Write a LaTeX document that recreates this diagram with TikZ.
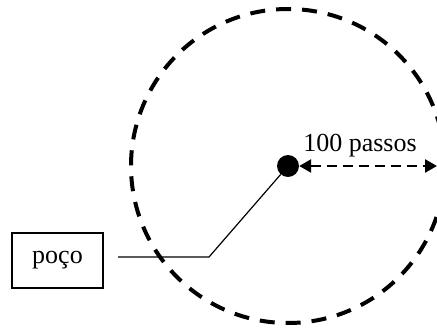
\documentclass[tikz,border=0pt]{standalone}
\usepackage{fontspec}
\setmainfont{Liberation Serif}
\usetikzlibrary{arrows.meta}
\begin{document}
\begin{tikzpicture}[x=1pt,y=-1pt,
  lbl/.style={font=\fontsize{26}{30}\selectfont, inner sep=0pt},
  wellbox/.style={draw, line width=1.3pt, minimum width=91pt, minimum height=55pt, inner sep=0pt, font=\fontsize{26}{30}\selectfont},
  ring/.style={draw, line width=4pt, dash pattern=on 15pt off 11pt},
  pathline/.style={line width=1.2pt},
  radius arrow/.style={line width=2.6pt, dash pattern=on 10pt off 6pt, {Triangle[length=12pt,width=13pt]}-{Triangle[length=12pt,width=13pt]}}
]
\useasboundingbox (0,0) rectangle (437,329);
\coordinate (c) at (288,166);
\draw[ring] (c) circle[radius=157];
\node[wellbox] (well) at (57.5,260.5) {poço};
\node[circle, fill=black, inner sep=0pt, minimum size=22pt] (dot) at (c) {};
\coordinate (start) at (118,257);
\coordinate (bend) at (209,257);
\coordinate (edge) at (437,166);
\draw[pathline] (start) -- (bend) -- (dot);
\draw[radius arrow] (dot.east) -- (edge);
\node[lbl, anchor=base] (txt) at (360,152) {100 passos};
\end{tikzpicture}
\end{document}
